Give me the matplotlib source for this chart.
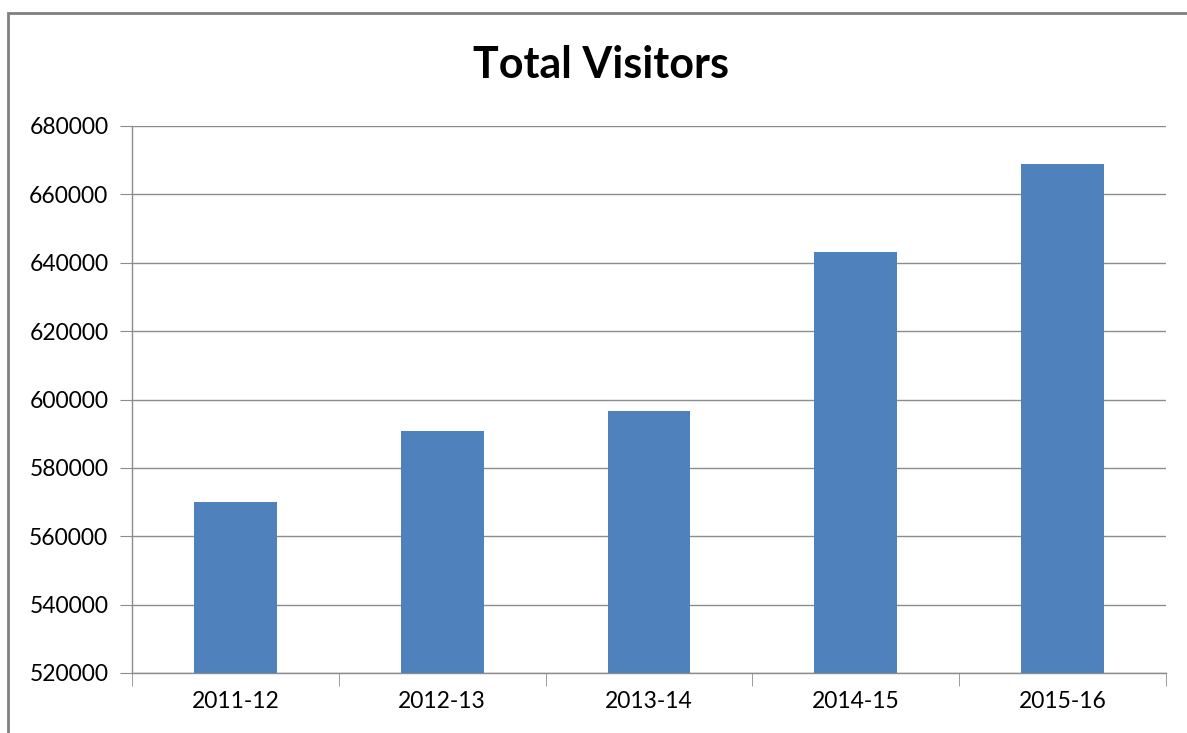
import matplotlib.pyplot as plt
from matplotlib.patches import Rectangle
import numpy as np

years = ["2011-12", "2012-13", "2013-14", "2014-15", "2015-16"]
visitors = [570000, 590800, 596600, 643100, 669000]

bar_color = "#4F81BD"
grid_color = "#8C8C8C"

plt.rcParams["font.family"] = ["Lato", "DejaVu Sans"]

fig = plt.figure(figsize=(11.87, 7.33), dpi=100)
ax = fig.add_axes([132 / 1187, 1 - 673 / 733, (1166 - 132) / 1187, (673 - 126) / 733])

x = np.arange(len(years))
ax.bar(x, visitors, width=0.4, color=bar_color, zorder=3)

ax.set_ylim(520000, 680000)
ax.set_yticks(np.arange(520000, 680001, 20000))
ax.set_xlim(-0.5, len(years) - 0.5)
ax.set_xticks(x)
ax.set_xticklabels(years)
ax.set_xticks(np.arange(-0.5, len(years), 1), minor=True)

ax.grid(axis="y", color=grid_color, linewidth=1.0, zorder=0)
for s in ["top", "right"]:
    ax.spines[s].set_visible(False)
for s in ["left", "bottom"]:
    ax.spines[s].set_color(grid_color)
    ax.spines[s].set_linewidth(1.0)

ax.tick_params(axis="y", length=9, color=grid_color, labelsize=16.5, pad=8)
ax.tick_params(axis="x", which="major", length=0, labelsize=16.5, pad=13)
ax.tick_params(axis="x", which="minor", length=9, color=grid_color)

fig.text(601 / 1187, 1 - 65 / 733, "Total Visitors", ha="center", va="center",
         fontsize=31, fontweight="bold")

# outer chart frame
fig.patches.append(Rectangle((8 / 1187, -0.1), 1.2, 1 - 13 / 733 + 0.1,
                             transform=fig.transFigure, fill=False,
                             edgecolor="#808080", linewidth=2))

fig.savefig("out.png", dpi=100)
